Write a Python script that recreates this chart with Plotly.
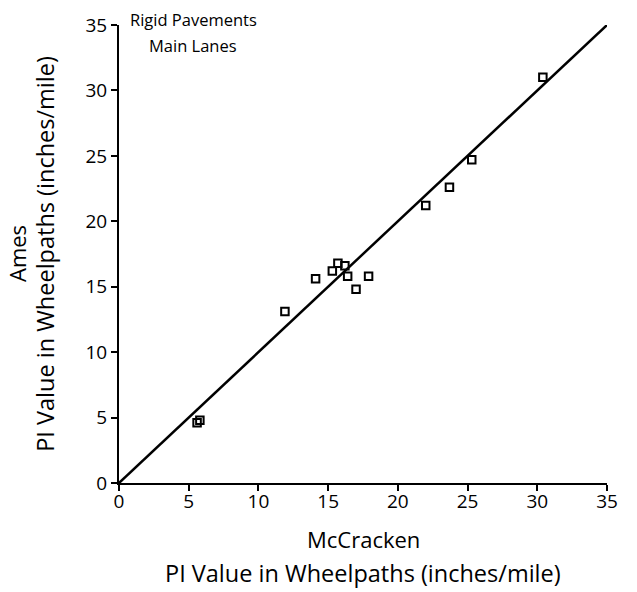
import plotly.graph_objects as go

mccracken = [5.6, 5.8, 11.9, 14.1, 15.3, 15.7, 16.2, 16.4, 17.0, 17.9, 22.0, 23.7, 25.3, 30.4]
ames = [4.6, 4.8, 13.1, 15.6, 16.2, 16.8, 16.6, 15.8, 14.8, 15.8, 21.2, 22.6, 24.7, 31.0]
line_x = [0, 35]
line_y = [0, 35]
ticks = [0, 5, 10, 15, 20, 25, 30, 35]

FONT = "Open Sans"

fig = go.Figure()
fig.add_trace(go.Scatter(x=line_x, y=line_y, mode="lines",
                         line=dict(color="black", width=2.5), showlegend=False))
fig.add_trace(go.Scatter(x=mccracken, y=ames, mode="markers",
                         marker=dict(symbol="square-open", size=7.5, color="black",
                                     line=dict(width=2, color="black")),
                         showlegend=False))

axis_common = dict(range=[0, 35], tickvals=ticks, ticks="outside", ticklen=6,
                   tickwidth=1.5, tickcolor="black", showgrid=False, zeroline=False,
                   showline=True, linecolor="black", linewidth=2,
                   tickfont=dict(family=FONT, size=19, color="black"))

def ann(text, x, y, size, angle=0):
    return dict(text=text, xref="paper", yref="paper", x=x, y=y,
                xanchor="center", yanchor="middle", showarrow=False,
                textangle=angle, font=dict(family=FONT, size=size, color="black"))

fig.update_layout(
    width=637, height=592,
    margin=dict(l=119, r=30, t=20, b=109),
    plot_bgcolor="white", paper_bgcolor="white",
    xaxis=dict(**axis_common, ticklabelstandoff=-6),
    yaxis=dict(**axis_common),
    annotations=[
        ann("Rigid Pavements", 0.152, 1.011, 16.5),
        ann("Main Lanes", 0.152, 0.955, 16.5),
        ann("McCracken", 0.5, -0.123, 22),
        ann("PI Value in Wheelpaths (inches/mile)", 0.5, -0.197, 23.5),
        ann("Ames", -0.209, 0.5, 22, -90),
        ann("PI Value in Wheelpaths (inches/mile)", -0.152, 0.5, 23.5, -90),
    ],
)

fig.write_html("out.html")
